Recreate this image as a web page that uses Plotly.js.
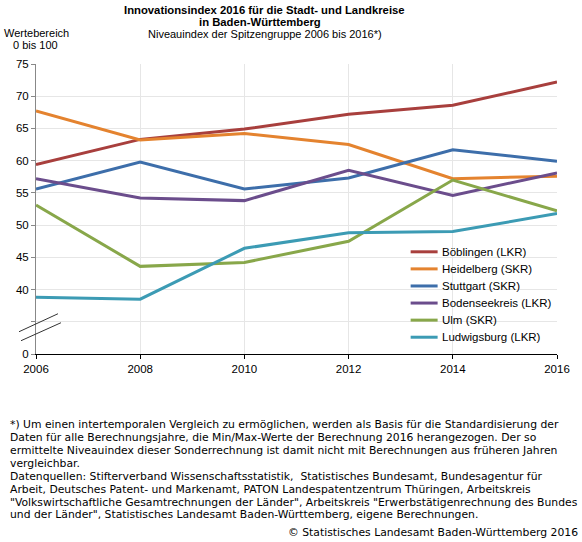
<!DOCTYPE html>
<html>
<head>
<meta charset="utf-8">
<script src="https://cdn.plot.ly/plotly-3.0.1.min.js"></script>
<style>html,body{margin:0;padding:0;background:#fff;}#chart{width:582px;height:542px;}</style>
</head>
<body>
<div id="chart"></div>
<script>
// ---- data ----
const years = [2006, 2008, 2010, 2012, 2014, 2016];
const seriesNames = ["Böblingen (LKR)", "Heidelberg (SKR)", "Stuttgart (SKR)", "Bodenseekreis (LKR)", "Ulm (SKR)", "Ludwigsburg (LKR)"];
const boeblingen   = [59.4, 63.3, 64.9, 67.2, 68.6, 72.2];
const heidelberg   = [67.7, 63.2, 64.2, 62.5, 57.2, 57.6];
const stuttgart    = [55.6, 59.8, 55.6, 57.3, 61.7, 59.9];
const bodensee     = [57.2, 54.2, 53.8, 58.5, 54.6, 58.1];
const ulm          = [53.1, 43.6, 44.2, 47.5, 57.0, 52.2];
const ludwigsburg  = [38.8, 38.5, 46.4, 48.8, 49.0, 51.8];
const seriesValues = [boeblingen, heidelberg, stuttgart, bodensee, ulm, ludwigsburg];
const seriesColors = ["#a83f3d", "#e4832f", "#3d6eaa", "#6b4d8c", "#88a74a", "#3c9bb4"];
// broken axis: position 30 shows "0"
const yTickVals  = [30, 35, 40, 45, 50, 55, 60, 65, 70, 75];
const yTickText  = ["0", "", "40", "45", "50", "55", "60", "65", "70", "75"];
const xTickVals  = [2006, 2008, 2010, 2012, 2014, 2016];

const footLines = [
 "*) Um einen intertemporalen Vergleich zu ermöglichen, werden als Basis für die Standardisierung der",
 "Daten für alle Berechnungsjahre, die Min/Max-Werte der Berechnung 2016 herangezogen. Der so",
 "ermittelte Niveauindex dieser Sonderrechnung ist damit nicht mit Berechnungen aus früheren Jahren",
 "vergleichbar.",
 "Datenquellen: Stifterverband Wissenschaftsstatistik,  Statistisches Bundesamt, Bundesagentur für",
 "Arbeit, Deutsches Patent- und Markenamt, PATON Landespatentzentrum Thüringen, Arbeitskreis",
 "\"Volkswirtschaftliche Gesamtrechnungen der Länder\", Arbeitskreis \"Erwerbstätigenrechnung des Bundes",
 "und der Länder\", Statistisches Landesamt Baden-Württemberg, eigene Berechnungen."
];

// ---- layout geometry ----
const W = 582, H = 542;
const L = 36, R = 557.5, T = 64, B = 354.3;
const px = x => (x - L) / (R - L);
const py = y => (B - y) / (B - T);
const FONT = "Liberation Sans, Arial, sans-serif";
const FOOTFONT = "DejaVu Sans, Verdana, sans-serif";

const traces = seriesNames.map((n, i) => ({
  type: "scatter", mode: "lines", name: n,
  x: years, y: seriesValues[i],
  line: {color: seriesColors[i], width: 3},
  showlegend: false,
  hoverinfo: "x+y+name"
}));

const annotations = [
  {text: "<b>Innovationsindex 2016 für die Stadt- und Landkreise</b>", x: px(265), y: py(10), size: 11.3},
  {text: "<b>in Baden-Württemberg</b>", x: px(260), y: py(22), size: 11.3},
  {text: "Niveauindex der Spitzengruppe 2006 bis 2016*)", x: px(265), y: py(34), size: 11},
  {text: "Wertebereich", x: px(36), y: py(33), size: 11},
  {text: "0 bis 100", x: px(35), y: py(44.5), size: 11}
].map(a => ({xref: "paper", yref: "paper", x: a.x, y: a.y, text: a.text, showarrow: false,
  xanchor: "center", yanchor: "middle", font: {family: FONT, size: a.size, color: "#000"}}));

const footY = [425, 438, 451, 464, 477, 490, 502.5, 515];
footLines.forEach((t, i) => annotations.push({
  xref: "paper", yref: "paper", x: px(8), y: py(footY[i]), text: t, showarrow: false,
  xanchor: "left", yanchor: "middle", font: {family: FOOTFONT, size: 10.8, color: "#000"}
}));
annotations.push({xref: "paper", yref: "paper", x: px(581), y: py(533), text: "© Statistisches Landesamt Baden-Württemberg 2016",
  showarrow: false, xanchor: "right", yanchor: "middle", font: {family: FOOTFONT, size: 10.8, color: "#000"}});

const shapes = [
  {type: "line", xref: "paper", yref: "paper", x0: px(19), y0: py(332), x1: px(58), y1: py(314), line: {color: "#333", width: 1}},
  {type: "line", xref: "paper", yref: "paper", x0: px(21), y0: py(341), x1: px(61), y1: py(323), line: {color: "#333", width: 1}}
];

// hand-built legend (compact spacing as in the reference)
const legTop = 252, legStep = 17.1;
seriesNames.forEach((n, i) => {
  const yy = legTop + i * legStep;
  shapes.push({type: "line", xref: "paper", yref: "paper", x0: px(411), x1: px(438), y0: py(yy), y1: py(yy),
    line: {color: seriesColors[i], width: 3}});
  annotations.push({xref: "paper", yref: "paper", x: px(440), y: py(yy), text: n, showarrow: false,
    xanchor: "left", yanchor: "middle", font: {family: FONT, size: 11.5, color: "#000"}});
});

const layout = {
  width: W, height: H,
  margin: {l: L, r: W - R, t: T, b: H - B, pad: 0},
  paper_bgcolor: "#fff", plot_bgcolor: "#fff",
  font: {family: FONT, size: 11, color: "#000"},
  showlegend: false,
  xaxis: {range: [2006, 2016], tickvals: xTickVals, ticks: "outside", ticklen: 4, tickcolor: "#000",
          showgrid: true, gridcolor: "#e6e6e6", gridwidth: 1, zeroline: false,
          showline: true, linecolor: "#000", linewidth: 1, tickfont: {family: FONT, size: 11.5}, fixedrange: true},
  yaxis: {range: [30, 75], tickvals: yTickVals, ticktext: yTickText, ticks: "outside", ticklen: 4, tickcolor: "#888",
          showgrid: true, gridcolor: "#e6e6e6", gridwidth: 1, zeroline: false,
          showline: true, linecolor: "#888", linewidth: 1, tickfont: {family: FONT, size: 11.5}, fixedrange: true},
  annotations: annotations,
  shapes: shapes
};

Plotly.newPlot("chart", traces, layout, {displayModeBar: false, staticPlot: true});
</script>
</body>
</html>
